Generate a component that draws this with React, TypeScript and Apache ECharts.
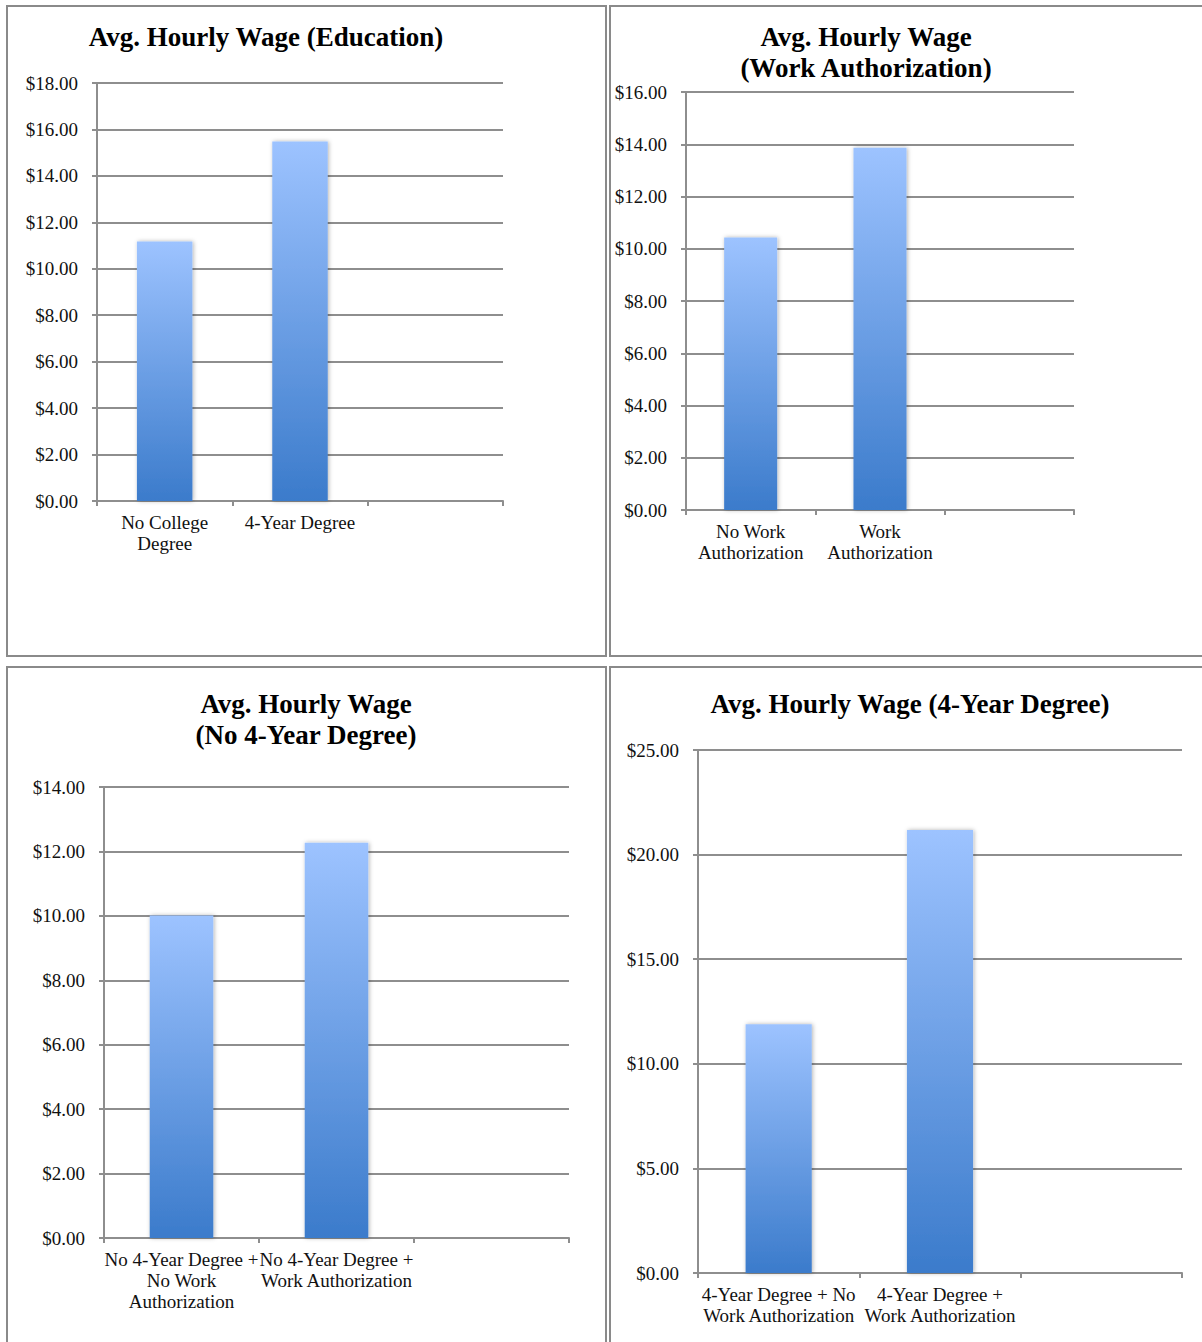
import React, { useEffect, useRef } from "react";
import * as echarts from "echarts";

// Panel titles
const titles = [
  "Avg. Hourly Wage (Education)",
  "Avg. Hourly Wage\n(Work Authorization)",
  "Avg. Hourly Wage\n(No 4-Year Degree)",
  "Avg. Hourly Wage (4-Year Degree)",
];

// Categories per panel (third slot is left empty)
const educationCats = ["No College\nDegree", "4-Year Degree", ""];
const workAuthCats = ["No Work\nAuthorization", "Work\nAuthorization", ""];
const noDegreeCats = [
  "No 4-Year Degree +\nNo Work\nAuthorization",
  "No 4-Year Degree +\nWork Authorization",
  "",
];
const degreeCats = [
  "4-Year Degree + No\nWork Authorization",
  "4-Year Degree +\nWork Authorization",
  "",
];

// Average hourly wages (USD)
const educationWages = [11.17, 15.48];
const workAuthWages = [10.43, 13.87];
const noDegreeWages = [10.01, 12.27];
const degreeWages = [11.89, 21.17];

// Value axis ranges
const axisMax = [18, 16, 14, 25];
const axisStep = [2, 2, 2, 5];

const SERIF = '"Liberation Serif", "Times New Roman", serif';
const GRID_GRAY = "#8e8e8e";

export default function App() {
  const ref = useRef<HTMLDivElement>(null);

  useEffect(() => {
    if (!ref.current) return;
    const chart = echarts.init(ref.current, null, { renderer: "svg" });

    const grids = [
      { left: 97, top: 83, width: 406, height: 418 },
      { left: 686, top: 92, width: 388, height: 418 },
      { left: 104, top: 787, width: 465, height: 451 },
      { left: 698, top: 750, width: 484, height: 523 },
    ];
    const cats = [educationCats, workAuthCats, noDegreeCats, degreeCats];
    const values = [educationWages, workAuthWages, noDegreeWages, degreeWages];
    const titlePos = [
      [266, 37],
      [866, 52],
      [306, 719],
      [910, 704],
    ];

    const barColor = new echarts.graphic.LinearGradient(0, 0, 0, 1, [
      { offset: 0, color: "#9dc3ff" },
      { offset: 1, color: "#3b7bcb" },
    ]);

    const option: any = {
      animation: false,
      backgroundColor: "#ffffff",
      grid: grids.map((g) => ({ ...g, containLabel: false })),
      xAxis: cats.map((c, i) => ({
        type: "category",
        gridIndex: i,
        data: c,
        boundaryGap: true,
        axisLine: { show: true, lineStyle: { color: GRID_GRAY, width: 2 } },
        axisTick: { show: true, alignWithLabel: false, length: 5, lineStyle: { color: GRID_GRAY, width: 2 } },
        axisLabel: {
          interval: 0,
          margin: 11,
          fontFamily: SERIF,
          fontSize: 19,
          lineHeight: 21,
          color: "#111",
        },
        splitLine: { show: false },
      })),
      yAxis: axisMax.map((m, i) => ({
        type: "value",
        gridIndex: i,
        min: 0,
        max: m,
        interval: axisStep[i],
        axisLine: { show: true, lineStyle: { color: GRID_GRAY, width: 2 } },
        axisTick: { show: true, length: 5, lineStyle: { color: GRID_GRAY, width: 2 } },
        axisLabel: {
          margin: 19,
          fontFamily: SERIF,
          fontSize: 19,
          color: "#111",
          formatter: (v: number) => "$" + v.toFixed(2),
        },
        splitLine: { show: true, lineStyle: { color: GRID_GRAY, width: 2 } },
      })),
      series: values.map((v, i) => ({
        type: "bar",
        xAxisIndex: i,
        yAxisIndex: i,
        data: v,
        barWidth: "41%",
        itemStyle: {
          color: barColor,
          shadowBlur: 4,
          shadowColor: "rgba(0,0,0,0.3)",
          shadowOffsetX: 1,
          shadowOffsetY: 0,
        },
      })),
      graphic: [
        // panel frames
        ...[
          [7, 6, 599, 650],
          [610, 6, 600, 650],
          [7, 667, 599, 700],
          [610, 667, 600, 700],
        ].map(([x, y, w, h]) => ({
          type: "rect",
          shape: { x, y, width: w, height: h },
          style: { fill: "none", stroke: "#8a8a8a", lineWidth: 2 },
          silent: true,
        })),
        // panel titles
        ...titles.map((t, i) => ({
          type: "text",
          x: titlePos[i][0],
          y: titlePos[i][1],
          style: {
            text: t,
            fill: "#000",
            fontFamily: SERIF,
            fontWeight: "bold",
            fontSize: 27,
            lineHeight: 31,
            align: "center",
            verticalAlign: "middle",
            textAlign: "center",
            textVerticalAlign: "middle",
          },
          silent: true,
        })),
      ],
    };

    chart.setOption(option);
    return () => chart.dispose();
  }, []);

  return (
    <div
      ref={ref}
      style={{ position: "absolute", left: 0, top: 0, width: 1202, height: 1342 }}
    />
  );
}
